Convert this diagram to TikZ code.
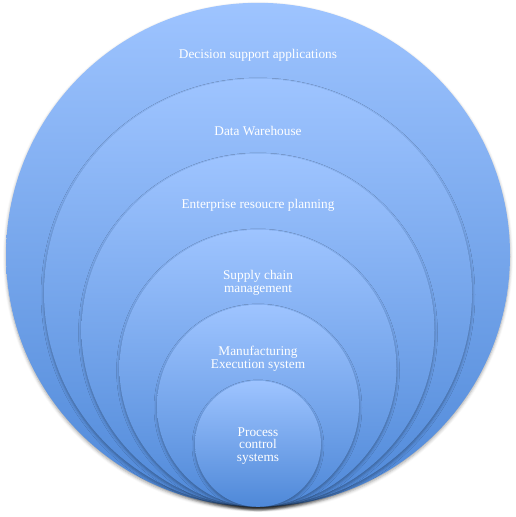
\documentclass[tikz,border=0pt]{standalone}
\usepackage{fontspec}
\setmainfont{Liberation Serif}
\usetikzlibrary{positioning,shadows.blur}
\definecolor{ringtop}{HTML}{9EC4FF}
\definecolor{ringbottom}{HTML}{4E88D8}
\tikzset{
x=1pt,y=1pt,
ring/.style={circle,draw=none,inner sep=0pt,minimum size=#1,anchor=south,
  top color=ringtop,bottom color=ringbottom,
  blur shadow={shadow xshift=0pt,shadow yshift=-2pt,shadow blur radius=3pt,shadow opacity=35}},
ring label/.style={text=white,align=center,font=\fontsize{13.3}{12.5}\selectfont},
}
\begin{document}
\begin{tikzpicture}
\useasboundingbox (0,0) rectangle (516,517);
\coordinate (base) at (258,10);
% rings, outermost first
\foreach \name/\size in {dss/504pt,dwh/428pt,erp/353pt,scm/277pt,mes/202pt,pcs/126pt}
  \node[ring=\size] (\name) at (base) {};
\node[ring label] (dsslabel) at ([yshift=-53pt]dss.north) {Decision support applications};
\node[ring label] (dwhlabel) at ([yshift=-52pt]dwh.north) {Data Warehouse};
\node[ring label] (erplabel) at ([yshift=-52pt]erp.north) {Enterprise resoucre planning};
\node[ring label] (scmlabel) at ([yshift=-53pt]scm.north) {Supply chain\\management};
\node[ring label] (meslabel) at ([yshift=-54pt]mes.north) {Manufacturing\\Execution system};
\node[ring label] (pcslabel) at ([yshift=-2pt]pcs.center) {Process\\control\\systems};
\end{tikzpicture}
\end{document}
